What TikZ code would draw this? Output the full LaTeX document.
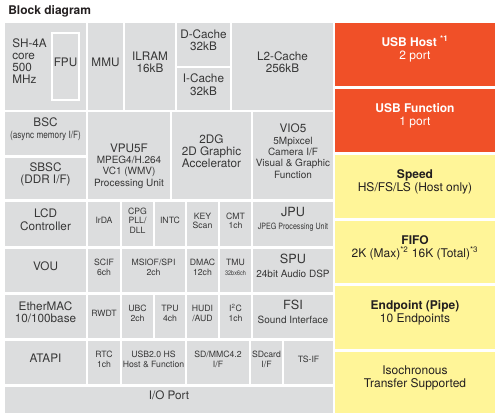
\documentclass[tikz,border=0pt]{standalone}
\usepackage{fontspec}
\setmainfont{TeX Gyre Heros}
\usepackage{graphicx}
\usetikzlibrary{positioning, fit}

\definecolor{blkgray}{RGB}{220,221,222}
\definecolor{usbred}{RGB}{240,80,40}
\definecolor{usbyellow}{RGB}{255,245,152}
\definecolor{txtgray}{RGB}{55,55,55}
\definecolor{txtdark}{RGB}{35,31,32}

\newcommand{\blksub}{\fontsize{7.5}{8.5}\selectfont}
\newcommand{\blktiny}{\fontsize{5}{6}\selectfont}
\newcommand{\condtxt}[1]{\scalebox{0.82}[1]{#1}}

\begin{document}
\begin{tikzpicture}[x=0.75pt, y=-0.75pt,
    % Styles
    blk/.style={fill=blkgray, inner sep=0pt, align=center, text=txtgray, font=\fontsize{8.8}{9.2}\selectfont},
    cell/.style={blk, font=\fontsize{6.5}{7.2}\selectfont},
    big blk/.style={blk, font=\fontsize{9.5}{10}\selectfont},
    usb head/.style={fill=usbred, inner sep=0pt, align=center, text=white, font=\fontsize{9}{10}\selectfont},
    usb feat/.style={usb head, fill=usbyellow, text=txtdark},
    tag/.style={inner sep=0pt, text=txtgray},
]
    \useasboundingbox (0,0) rectangle (497,416);

    % Title
    \node[anchor=base west, inner sep=0pt, text=txtdark, font=\fontsize{9}{10}\selectfont\bfseries] (title) at (8,15) {Block diagram};

    % CPU row
    \node[blk, fit={(5,23) (86,110)}] (sh4a) {};
    \node[tag, anchor=west, align=left, font=\fontsize{8.8}{9}\selectfont] (sh4a text) at (12,61) {SH-4A\\core\\500\\MHz};
    \node[blk, fill=none, draw=white, line width=1pt, fit={(52,33) (79,100)}] (fpu) {FPU};
    \node[blk, fit={(88,23) (123,110)}] (mmu) {MMU};
    \node[blk, fit={(125,23) (175,110)}] (ilram) {ILRAM\\16kB};
    \node[blk, fit={(177,23) (230,66)}] (dcache) {D-Cache\\32kB};
    \node[blk, fit={(177,68) (230,110)}] (icache) {I-Cache\\32kB};
    \node[blk, fit={(232,23) (333,110)}] (l2cache) {L2-Cache\\256kB};

    % Bus / multimedia row
    \node[blk, fit={(5,112) (86,155)}] (bsc) {BSC\\\condtxt{\blksub(async memory I/F)}};
    \node[blk, fit={(5,158) (86,199)}] (sbsc) {SBSC\\(DDR I/F)};
    \node[blk, fit={(88,112) (170,199)}] (vpu) {};
    \node[tag, align=center, font=\blksub] (vpu text) at (129,166) {{\fontsize{8.8}{9}\selectfont VPU5F}\\MPEG4/H.264\\VC1 (WMV)\\Processing Unit};
    \node[blk, fit={(172,112) (251,199)}] (gfx2d) {2DG\\2D Graphic\\Accelerator};
    \node[blk, font=\blksub, fit={(253,112) (333,199)}] (vio) {{\fontsize{8.8}{9}\selectfont VIO5}\\5Mpixcel\\Camera I/F\\Visual \& Graphic\\Function};

    % Peripheral rows
    \node[blk, fit={(5,202) (86,246)}] (lcdc) {LCD\\Controller};
    \node[cell, fit={(88,202) (120,246)}] (irda) {IrDA};
    \node[cell, fit={(122,202) (153,246)}] (cpg) {CPG\\PLL/\\DLL};
    \node[cell, fit={(155,202) (185,246)}] (intc) {INTC};
    \node[cell, fit={(187,202) (218,246)}] (keysc) {KEY\\Scan};
    \node[cell, fit={(220,202) (251,246)}] (cmt) {CMT\\1ch};
    \node[big blk, fit={(253,202) (333,246)}] (jpu) {JPU\\\condtxt{\fontsize{6.5}{7}\selectfont JPEG Processing Unit}};

    \node[blk, fit={(5,249) (86,292)}] (vou) {VOU};
    \node[cell, fit={(88,249) (120,292)}] (scif) {SCIF\\6ch};
    \node[cell, fit={(122,249) (185,292)}] (msiof) {MSIOF/SPI\\2ch};
    \node[cell, fit={(187,249) (218,292)}] (dmac) {DMAC\\12ch};
    \node[cell, fit={(220,249) (251,292)}] (tmu) {TMU\\\condtxt{\blktiny 32bx6ch}};
    \node[big blk, fit={(253,249) (333,292)}] (spu) {SPU\\{\blksub 24bit Audio DSP}};

    \node[blk, fit={(5,295) (86,338)}] (ether) {EtherMAC\\10/100base};
    \node[cell, fit={(88,295) (120,338)}] (rwdt) {RWDT};
    \node[cell, fit={(122,295) (153,338)}] (ubc) {UBC\\2ch};
    \node[cell, fit={(155,295) (185,338)}] (tpu) {TPU\\4ch};
    \node[cell, fit={(187,295) (218,338)}] (hudi) {HUDI\\/AUD};
    \node[cell, fit={(220,295) (251,338)}] (iic) {I\textsuperscript{2}C\\1ch};
    \node[big blk, fit={(253,295) (333,338)}] (fsi) {FSI\\{\blksub Sound Interface}};

    \node[blk, fit={(5,341) (86,384)}] (atapi) {ATAPI};
    \node[cell, fit={(88,341) (120,384)}] (rtc) {RTC\\1ch};
    \node[cell, fit={(122,341) (185,384)}] (usbhs) {USB2.0 HS\\Host \& Function};
    \node[cell, fit={(187,341) (249,384)}] (sdmmc) {SD/MMC4.2\\I/F};
    \node[cell, fit={(251,341) (282,384)}] (sdcard) {SDcard\\I/F};
    \node[cell, fit={(284,341) (333,384)}] (tsif) {TS-IF};

    \node[blk, fit={(5,387) (333,413)}] (ioport) {I/O Port};

    % USB column
    \node[usb head, fit={(335,23) (495,86)}] (usbhost) {\textbf{USB Host \textsuperscript{*1}}\\2 port};
    \node[usb head, fit={(335,89) (495,152)}] (usbfunc) {\textbf{USB Function}\\1 port};
    \node[usb feat, fit={(335,155) (495,218)}] (speed) {\textbf{Speed}\\HS/FS/LS (Host only)};
    \node[usb feat, fit={(335,221) (495,283)}] (fifo) {\textbf{FIFO}\\2K (Max)\textsuperscript{*2} 16K (Total)\textsuperscript{*3}};
    \node[usb feat, fit={(335,286) (495,349)}] (endpoint) {\textbf{Endpoint (Pipe)}\\10 Endpoints};
    \node[usb feat, fit={(335,352) (495,413)}] (isoc) {Isochronous\\Transfer Supported};
\end{tikzpicture}
\end{document}
